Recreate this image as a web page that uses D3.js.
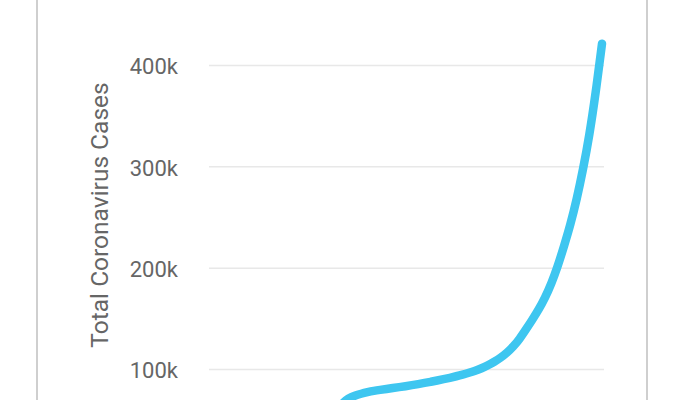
<!DOCTYPE html>
<html lang="en">
<head>
    <meta charset="utf-8">
    <title>Total Coronavirus Cases</title>
    <style type="text/css">
        body { margin: 0; background: #fff; }

        .frame {
            fill: none;
            stroke: #cfcfcf;
            stroke-width: 2;
        }

        .grid line {
            stroke: #e8e8e8;
            stroke-width: 1.5;
        }

        .grid text {
            fill: #666;
            font-family: Roboto, sans-serif;
            font-size: 22px;
        }

        .line {
            fill: none;
            stroke: #3ec6f0;
            stroke-width: 8.5;
            stroke-linecap: round;
            stroke-linejoin: round;
        }

        .title {
            fill: #666;
            font-family: Roboto, sans-serif;
            font-size: 24.5px;
        }
    </style>
</head>
<body>
<div id="chart"></div>

<script src="https://d3js.org/d3.v7.min.js"></script>
<script type="text/javascript">

    // one entry per day, Jan 22 to Mar 24
    var dates = [
        "2020-01-22","2020-01-23","2020-01-24","2020-01-25","2020-01-26","2020-01-27","2020-01-28",
        "2020-01-29","2020-01-30","2020-01-31","2020-02-01","2020-02-02","2020-02-03","2020-02-04",
        "2020-02-05","2020-02-06","2020-02-07","2020-02-08","2020-02-09","2020-02-10","2020-02-11",
        "2020-02-12","2020-02-13","2020-02-14","2020-02-15","2020-02-16","2020-02-17","2020-02-18",
        "2020-02-19","2020-02-20","2020-02-21","2020-02-22","2020-02-23","2020-02-24","2020-02-25",
        "2020-02-26","2020-02-27","2020-02-28","2020-02-29","2020-03-01","2020-03-02","2020-03-03",
        "2020-03-04","2020-03-05","2020-03-06","2020-03-07","2020-03-08","2020-03-09","2020-03-10",
        "2020-03-11","2020-03-12","2020-03-13","2020-03-14","2020-03-15","2020-03-16","2020-03-17",
        "2020-03-18","2020-03-19","2020-03-20","2020-03-21","2020-03-22","2020-03-23","2020-03-24"
    ];

    // total cases (early part is below the visible area, estimated)
    var cases = [
        600, 850, 1300, 2000, 2800, 4600, 6100,
        7800, 9800, 12000, 14600, 17400, 20600, 24500,
        28300, 31400, 34900, 37600, 42000, 50000, 58000,
        66000, 71000, 73800, 75600, 77100, 78400, 79400,
        80300, 81200, 82100, 83000, 84000, 85100, 86200,
        87400, 88600, 89900, 91300, 92800, 94400, 96200,
        98200, 100600, 103600, 107000, 111000, 116000, 122000,
        129600, 139000, 148500, 158500, 170000, 184000, 201000,
        221000, 242000, 267000, 296500, 330000, 372000, 421000
    ];

    var yTicks = [100000, 200000, 300000, 400000];
    var yLabel = "Total Coronavirus Cases";

    var parse = d3.timeParse("%Y-%m-%d");
    var dataset = dates.map(function(d, i) {
        return { date: parse(d), value: cases[i] };
    });

    var width = 700, height = 400;
    var left = 209, right = 602, gridRight = 604;

    var svg = d3.select("#chart")
            .append("svg")
            .attr("width", width)
            .attr("height", height);

    // card border, cropped at top and bottom
    svg.append("rect")
            .attr("class", "frame")
            .attr("x", 37)
            .attr("y", -20)
            .attr("width", 610)
            .attr("height", height + 40);

    var xScale = d3.scaleTime()
            .domain(d3.extent(dataset, function(d) { return d.date; }))
            .range([left, right]);

    var yScale = d3.scaleLinear()
            .domain([0, 400000])
            .range([470.3, 65]);

    var yAxis = d3.axisLeft(yScale)
            .tickValues(yTicks)
            .tickSize(-(gridRight - left))
            .tickPadding(31)
            .tickFormat(function(d) { return d3.format("~s")(d); });

    var grid = svg.append("g")
            .attr("class", "grid")
            .attr("transform", "translate(" + left + ",0)")
            .call(yAxis);

    grid.select(".domain").remove();
    grid.selectAll("text").attr("dy", "0.4em");

    svg.append("text")
            .attr("class", "title")
            .attr("text-anchor", "middle")
            .attr("transform", "translate(108,215) rotate(-90)")
            .text(yLabel);

    var line = d3.line()
            .x(function(d) { return xScale(d.date); })
            .y(function(d) { return yScale(d.value); })
            .curve(d3.curveBasis);

    svg.append("path")
            .datum(dataset)
            .attr("class", "line")
            .attr("d", line);

</script>
</body>
</html>
